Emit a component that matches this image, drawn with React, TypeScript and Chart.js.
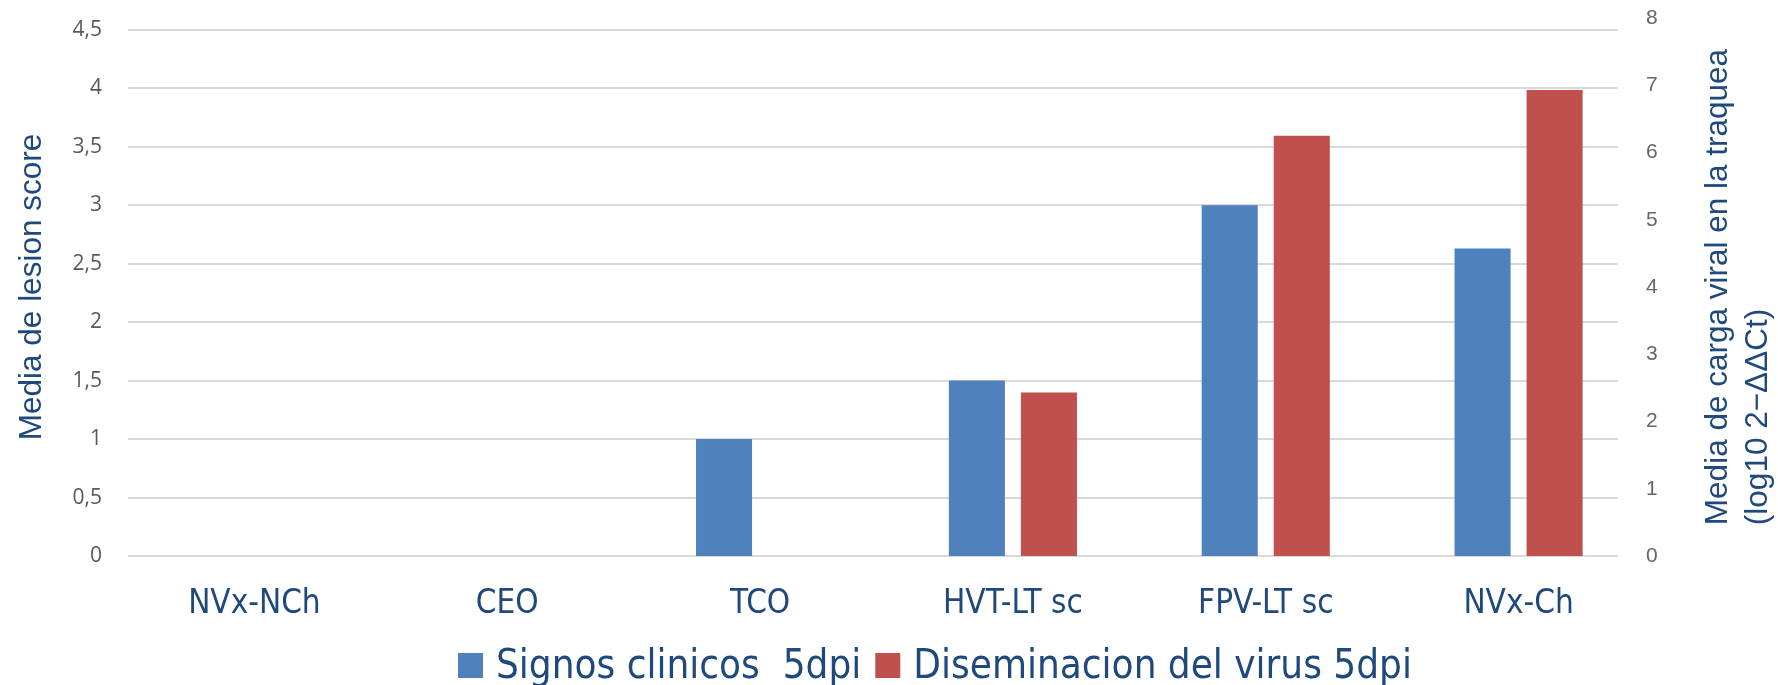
import React, { useEffect, useRef } from "react";
import { Chart, registerables } from "chart.js";

Chart.register(...registerables);

// Groups along the x axis
const categories = ["NVx-NCh", "CEO", "TCO", "HVT-LT sc", "FPV-LT sc", "NVx-Ch"];

// Mean lesion score (left axis)
const signosClinicos = [0, 0, 1.0, 1.5, 3.0, 2.63];

// Mean tracheal viral load, log10 2^-ΔΔCt (right axis)
const diseminacionVirus = [0, 0, 0, 2.43, 6.25, 6.93];

// Tick values of both value axes
const leftTicks = [0, 0.5, 1, 1.5, 2, 2.5, 3, 3.5, 4, 4.5];
const rightTicks = [0, 1, 2, 3, 4, 5, 6, 7, 8];

const seriesNames = ["Signos clinicos  5dpi", "Diseminacion del virus 5dpi"];
const seriesColors = ["#4F81BD", "#C0504D"];

const leftTitle = "Media de lesion score";
const rightTitleLines = ["Media de carga viral en la traquea", "(log10 2\u2212\u0394\u0394Ct)"];

const TITLE_COLOR = "#1F497D";
const CONDENSED = '"DejaVu Sans Condensed", "DejaVu Sans", sans-serif';

// Keep tick labels from pushing the plot area inwards
const noPadding = (scale: any) => {
  scale.paddingTop = 0;
  scale.paddingBottom = 0;
  scale.paddingLeft = 0;
  scale.paddingRight = 0;
};

// Horizontal grid of the left axis; it stops short of the right edge of the plot
const gridPlugin = {
  id: "leftGrid",
  beforeDatasetsDraw(chart: any) {
    const { ctx, chartArea } = chart;
    const y = chart.scales.y;
    ctx.save();
    ctx.strokeStyle = "#D9D9D9";
    ctx.lineWidth = 2;
    for (const t of y.ticks) {
      const py = Math.round(y.getPixelForValue(t.value));
      ctx.beginPath();
      ctx.moveTo(chartArea.left, py);
      ctx.lineTo(chartArea.right - 27, py);
      ctx.stroke();
    }
    ctx.restore();
  },
};

// Axis titles, both reading bottom-to-top
const titlesPlugin = {
  id: "axisTitles",
  afterDraw(chart: any) {
    const { ctx, chartArea } = chart;
    const midY = (chartArea.top + chartArea.bottom) / 2;
    ctx.save();
    ctx.fillStyle = TITLE_COLOR;
    ctx.font = '31.5px "Liberation Sans", Arial, sans-serif';
    ctx.textBaseline = "alphabetic";

    ctx.save();
    ctx.translate(41, midY);
    ctx.rotate(-Math.PI / 2);
    ctx.textAlign = "center";
    ctx.fillText(leftTitle, 0, 0);
    ctx.restore();

    const w1 = ctx.measureText(rightTitleLines[0]).width;
    ctx.save();
    ctx.translate(1727, midY + w1 / 2);
    ctx.rotate(-Math.PI / 2);
    ctx.textAlign = "left";
    rightTitleLines.forEach((line, i) => ctx.fillText(line, 0, i * 40));
    ctx.restore();
    ctx.restore();
  },
};

// Legend row under the category labels
const legendPlugin = {
  id: "bottomLegend",
  afterDraw(chart: any) {
    const { ctx } = chart;
    ctx.save();
    ctx.font = `40px ${CONDENSED}`;
    ctx.textBaseline = "alphabetic";
    ctx.textAlign = "left";
    let x = 458;
    const boxTop = 653;
    const box = 25;
    chart.data.datasets.forEach((ds: any) => {
      ctx.fillStyle = ds.backgroundColor;
      ctx.fillRect(x, boxTop, box, box);
      x += box + 13;
      ctx.fillStyle = TITLE_COLOR;
      ctx.fillText(ds.label, x, 678);
      x += ctx.measureText(ds.label).width + 14;
    });
    ctx.restore();
  },
};

export default function App() {
  const canvasRef = useRef<HTMLCanvasElement | null>(null);

  useEffect(() => {
    document.body.style.margin = "0";
    const canvas = canvasRef.current;
    if (!canvas) return;

    const chart = new Chart(canvas, {
      type: "bar",
      data: {
        labels: categories,
        datasets: [
          {
            label: seriesNames[0],
            data: signosClinicos,
            backgroundColor: seriesColors[0],
            yAxisID: "y",
            categoryPercentage: 0.57,
            barPercentage: 0.778,
          },
          {
            label: seriesNames[1],
            data: diseminacionVirus,
            backgroundColor: seriesColors[1],
            yAxisID: "y1",
            categoryPercentage: 0.57,
            barPercentage: 0.778,
          },
        ],
      },
      options: {
        animation: false,
        responsive: false,
        devicePixelRatio: 1,
        layout: { padding: { top: 18, left: 0, right: 0, bottom: 0 } },
        plugins: {
          legend: { display: false },
          tooltip: { enabled: false },
        },
        scales: {
          x: {
            grid: { display: false, drawTicks: false },
            border: { display: false },
            ticks: {
              color: TITLE_COLOR,
              font: { family: CONDENSED, size: 33 },
              padding: 29,
              maxRotation: 0,
              autoSkip: false,
            },
            afterFit: (scale: any) => {
              scale.height = 129;
              noPadding(scale);
            },
          },
          y: {
            position: "left",
            min: 0,
            max: 4.6,
            grid: { display: false, drawTicks: false },
            border: { display: false },
            ticks: {
              color: "#595959",
              font: { family: '"Open Sans", sans-serif', size: 21 },
              padding: 26,
              callback: (v: any) => String(v).replace(".", ","),
            },
            afterBuildTicks: (scale: any) => {
              scale.ticks = leftTicks.map((value) => ({ value }));
            },
            afterFit: (scale: any) => {
              scale.width = 128;
              noPadding(scale);
            },
          },
          y1: {
            position: "right",
            min: 0,
            max: 8,
            grid: { display: false, drawTicks: false },
            border: { display: false },
            ticks: {
              color: "#666666",
              font: { family: '"Liberation Sans", Arial, sans-serif', size: 21 },
              padding: 1,
            },
            afterBuildTicks: (scale: any) => {
              scale.ticks = rightTicks.map((value) => ({ value }));
            },
            afterFit: (scale: any) => {
              scale.width = 133;
              noPadding(scale);
            },
          },
        },
      },
      plugins: [gridPlugin, titlesPlugin, legendPlugin],
    });

    return () => chart.destroy();
  }, []);

  return (
    <div style={{ width: 1778, height: 685, background: "#ffffff" }}>
      <canvas ref={canvasRef} width={1778} height={685} style={{ display: "block" }} />
    </div>
  );
}
